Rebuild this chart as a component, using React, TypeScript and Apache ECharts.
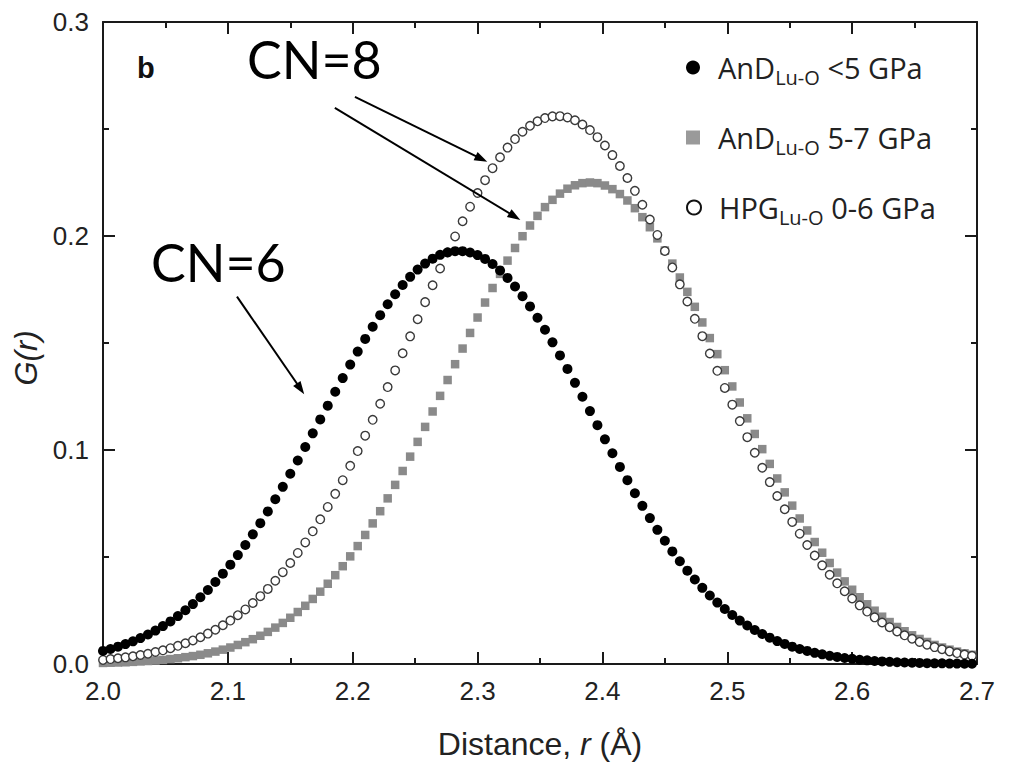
import React, { useEffect, useRef } from "react";
import * as echarts from "echarts";

// Distance r (Å) sampling positions
const R_VALUES = [
  2.000, 2.006, 2.012, 2.018, 2.024, 2.030, 2.036, 2.042, 2.048, 2.054,
  2.060, 2.066, 2.072, 2.078, 2.084, 2.090, 2.096, 2.102, 2.108, 2.114,
  2.120, 2.126, 2.132, 2.138, 2.144, 2.150, 2.156, 2.162, 2.168, 2.174,
  2.180, 2.186, 2.192, 2.198, 2.204, 2.210, 2.216, 2.222, 2.228, 2.234,
  2.240, 2.246, 2.252, 2.258, 2.264, 2.270, 2.276, 2.282, 2.288, 2.294,
  2.300, 2.306, 2.312, 2.318, 2.324, 2.330, 2.336, 2.342, 2.348, 2.354,
  2.360, 2.366, 2.372, 2.378, 2.384, 2.390, 2.396, 2.402, 2.408, 2.414,
  2.420, 2.426, 2.432, 2.438, 2.444, 2.450, 2.456, 2.462, 2.468, 2.474,
  2.480, 2.486, 2.492, 2.498, 2.504, 2.510, 2.516, 2.522, 2.528, 2.534,
  2.540, 2.546, 2.552, 2.558, 2.564, 2.570, 2.576, 2.582, 2.588, 2.594,
  2.600, 2.606, 2.612, 2.618, 2.624, 2.630, 2.636, 2.642, 2.648, 2.654,
  2.660, 2.666, 2.672, 2.678, 2.684, 2.690, 2.696,
];

// AnD Lu-O <5 GPa (filled black circles)
const AND_LOW = [
  0.0061, 0.0070, 0.0081, 0.0093, 0.0106, 0.0121, 0.0138, 0.0156, 0.0177, 0.0199,
  0.0224, 0.0251, 0.0280, 0.0312, 0.0346, 0.0383, 0.0422, 0.0464, 0.0509, 0.0556,
  0.0606, 0.0658, 0.0713, 0.0770, 0.0828, 0.0889, 0.0951, 0.1014, 0.1078, 0.1143,
  0.1207, 0.1272, 0.1336, 0.1399, 0.1460, 0.1519, 0.1576, 0.1630, 0.1681, 0.1728,
  0.1771, 0.1809, 0.1843, 0.1871, 0.1894, 0.1912, 0.1923, 0.1929, 0.1929, 0.1923,
  0.1911, 0.1893, 0.1869, 0.1839, 0.1804, 0.1764, 0.1719, 0.1671, 0.1618, 0.1562,
  0.1503, 0.1442, 0.1379, 0.1314, 0.1249, 0.1182, 0.1116, 0.1050, 0.0985, 0.0921,
  0.0859, 0.0798, 0.0739, 0.0682, 0.0627, 0.0576, 0.0526, 0.0480, 0.0436, 0.0395,
  0.0356, 0.0320, 0.0287, 0.0257, 0.0229, 0.0203, 0.0180, 0.0159, 0.0140, 0.0123,
  0.0107, 0.0094, 0.0081, 0.0070, 0.0061, 0.0052, 0.0045, 0.0038, 0.0033, 0.0028,
  0.0024, 0.0020, 0.0017, 0.0014, 0.0012, 0.0010, 0.0008, 0.0007, 0.0006, 0.0005,
  0.0004, 0.0003, 0.0003, 0.0002, 0.0002, 0.0001, 0.0001,
];

// AnD Lu-O 5-7 GPa (grey squares)
const AND_HIGH = [
  0.0005, 0.0006, 0.0007, 0.0008, 0.0010, 0.0012, 0.0014, 0.0016, 0.0019, 0.0023,
  0.0027, 0.0032, 0.0037, 0.0043, 0.0050, 0.0058, 0.0067, 0.0077, 0.0089, 0.0102,
  0.0116, 0.0132, 0.0150, 0.0170, 0.0192, 0.0216, 0.0243, 0.0272, 0.0304, 0.0338,
  0.0375, 0.0415, 0.0457, 0.0503, 0.0551, 0.0603, 0.0657, 0.0714, 0.0774, 0.0837,
  0.0902, 0.0969, 0.1038, 0.1108, 0.1180, 0.1253, 0.1327, 0.1401, 0.1474, 0.1547,
  0.1619, 0.1689, 0.1757, 0.1823, 0.1885, 0.1944, 0.1999, 0.2049, 0.2094, 0.2135,
  0.2169, 0.2198, 0.2221, 0.2237, 0.2247, 0.2250, 0.2247, 0.2236, 0.2219, 0.2196,
  0.2166, 0.2130, 0.2088, 0.2041, 0.1989, 0.1932, 0.1871, 0.1806, 0.1739, 0.1669,
  0.1596, 0.1523, 0.1448, 0.1373, 0.1297, 0.1222, 0.1148, 0.1075, 0.1004, 0.0935,
  0.0867, 0.0802, 0.0740, 0.0680, 0.0624, 0.0570, 0.0520, 0.0472, 0.0427, 0.0386,
  0.0347, 0.0312, 0.0279, 0.0249, 0.0221, 0.0196, 0.0173, 0.0153, 0.0134, 0.0117,
  0.0103, 0.0089, 0.0077, 0.0067, 0.0058, 0.0050, 0.0043,
];

// HPG Lu-O 0-6 GPa (open circles)
const HPG = [
  0.0019, 0.0023, 0.0027, 0.0031, 0.0036, 0.0042, 0.0048, 0.0056, 0.0064, 0.0074,
  0.0085, 0.0097, 0.0110, 0.0125, 0.0142, 0.0160, 0.0181, 0.0203, 0.0228, 0.0255,
  0.0285, 0.0317, 0.0351, 0.0389, 0.0429, 0.0472, 0.0519, 0.0568, 0.0620, 0.0676,
  0.0734, 0.0795, 0.0859, 0.0926, 0.0995, 0.1067, 0.1141, 0.1216, 0.1294, 0.1372,
  0.1452, 0.1531, 0.1611, 0.1691, 0.1770, 0.1848, 0.1924, 0.1998, 0.2069, 0.2137,
  0.2201, 0.2261, 0.2317, 0.2368, 0.2413, 0.2453, 0.2487, 0.2515, 0.2536, 0.2551,
  0.2559, 0.2560, 0.2554, 0.2541, 0.2521, 0.2495, 0.2462, 0.2423, 0.2378, 0.2327,
  0.2271, 0.2211, 0.2146, 0.2077, 0.2005, 0.1930, 0.1853, 0.1774, 0.1694, 0.1613,
  0.1532, 0.1451, 0.1370, 0.1290, 0.1212, 0.1135, 0.1060, 0.0987, 0.0917, 0.0850,
  0.0785, 0.0723, 0.0664, 0.0609, 0.0556, 0.0507, 0.0461, 0.0417, 0.0377, 0.0340,
  0.0306, 0.0274, 0.0245, 0.0218, 0.0194, 0.0172, 0.0152, 0.0134, 0.0118, 0.0103,
  0.0090, 0.0079, 0.0069, 0.0059, 0.0051, 0.0044, 0.0038,
];

const SERIES_NAMES = ["AnD Lu-O <5 GPa", "AnD Lu-O 5-7 GPa", "HPG Lu-O 0-6 GPa"];
const LEGEND_PARTS = [
  ["AnD", "Lu-O", " <5 GPa"],
  ["AnD", "Lu-O", " 5-7 GPa"],
  ["HPG", "Lu-O", " 0-6 GPa"],
];

// Annotation arrows in data coordinates: [x0, y0, x1, y1]
const ARROWS = [
  [2.2018, 0.265, 2.3031, 0.236],
  [2.1857, 0.2599, 2.3298, 0.2091],
  [2.1073, 0.1717, 2.1582, 0.1286],
];

const X_MIN = 2.0;
const X_MAX = 2.7;
const X_STEP = 0.1;
const Y_MIN = 0;
const Y_MAX = 0.3;
const Y_STEP = 0.1;

const FONT = "'Liberation Sans', Arial, sans-serif";
const AXIS_COLOR = "#1a1a1a";

export default function App() {
  const ref = useRef<HTMLDivElement>(null);

  useEffect(() => {
    if (!ref.current) return;
    const chart = echarts.init(ref.current, undefined, { renderer: "svg" });

    const axisCommon = {
      type: "value",
      axisLine: { show: true, onZero: false, lineStyle: { color: AXIS_COLOR, width: 2 } },
      axisTick: { show: true, inside: true, length: 12, lineStyle: { color: AXIS_COLOR, width: 2 } },
      minorTick: { show: true, splitNumber: 2, length: 6, lineStyle: { color: AXIS_COLOR, width: 2 } },
      splitLine: { show: false },
      minorSplitLine: { show: false },
    };

    const pairs = (ys: number[]) => R_VALUES.map((x, i) => [x, ys[i]]);

    const legendRich = {
      g: { width: 13 },
      m: { fontFamily: "'Open Sans', sans-serif", fontSize: 29, color: "#222", lineHeight: 34, verticalAlign: "middle" },
      s: { fontFamily: "'Open Sans', sans-serif", fontSize: 20, color: "#222", lineHeight: 40, verticalAlign: "bottom" },
    };
    const legendTops = [53, 123, 193];
    const legendIconStyles = [
      { color: "#000", borderWidth: 0, opacity: 1 },
      { color: "#9a9a9a", borderWidth: 0, opacity: 1 },
      { color: "#fff", borderColor: "#111", borderWidth: 2, opacity: 1 },
    ];

    const option: any = {
      animation: false,
      backgroundColor: "#fff",
      grid: { left: 103, right: 36, top: 22, bottom: 100, containLabel: false },
      xAxis: [
        {
          ...axisCommon,
          position: "bottom",
          min: X_MIN,
          max: X_MAX,
          interval: X_STEP,
          axisLabel: {
            show: true,
            margin: 14,
            fontSize: 26,
            color: "#222",
            fontFamily: FONT,
            formatter: (v: number) => v.toFixed(1),
          },
          name: "{n|Distance, }{i|r}{n| (Å)}",
          nameLocation: "middle",
          nameGap: 64,
          nameTextStyle: {
            fontSize: 32,
            color: "#222",
            fontFamily: FONT,
            rich: {
              n: { fontSize: 32, color: "#222", fontFamily: FONT },
              i: { fontSize: 32, color: "#222", fontFamily: FONT, fontStyle: "italic" },
            },
          },
        },
        {
          ...axisCommon,
          position: "top",
          min: X_MIN,
          max: X_MAX,
          interval: X_STEP,
          axisLabel: { show: false },
        },
      ],
      yAxis: [
        {
          ...axisCommon,
          position: "left",
          min: Y_MIN,
          max: Y_MAX,
          interval: Y_STEP,
          axisLabel: {
            show: true,
            margin: 14,
            fontSize: 26,
            color: "#222",
            fontFamily: FONT,
            formatter: (v: number) => v.toFixed(1),
          },
          name: "G(r)",
          nameLocation: "middle",
          nameGap: 44,
          nameRotate: 90,
          nameTextStyle: {
            fontSize: 31,
            color: "#222",
            fontFamily: FONT,
            fontStyle: "italic",
            padding: [0, 30, 0, 0],
          },
        },
        {
          ...axisCommon,
          position: "right",
          min: Y_MIN,
          max: Y_MAX,
          interval: Y_STEP,
          axisLabel: { show: false },
        },
      ],
      legend: SERIES_NAMES.map((name, i) => ({
        show: true,
        orient: "vertical",
        left: 686,
        top: legendTops[i],
        padding: 0,
        itemWidth: 14,
        itemHeight: 14,
        selectedMode: false,
        data: [name],
        itemStyle: legendIconStyles[i],
        formatter: () => `{g|}{m|${LEGEND_PARTS[i][0]}}{s|${LEGEND_PARTS[i][1]}}{m|${LEGEND_PARTS[i][2]}}`,
        textStyle: { rich: legendRich },
      })),
      series: [
        {
          name: SERIES_NAMES[1],
          type: "scatter",
          data: pairs(AND_HIGH),
          symbol: "rect",
          symbolSize: 8.5,
          itemStyle: { color: "#8a8a8a", opacity: 1 },
          emphasis: { disabled: true },
          z: 2,
        },
        {
          name: SERIES_NAMES[2],
          type: "scatter",
          data: pairs(HPG),
          symbol: "circle",
          symbolSize: 8.5,
          itemStyle: { color: "#fff", borderColor: "#3a3a3a", borderWidth: 1.4, opacity: 1 },
          emphasis: { disabled: true },
          z: 3,
        },
        {
          name: SERIES_NAMES[0],
          type: "scatter",
          data: pairs(AND_LOW),
          symbol: "circle",
          symbolSize: 10,
          itemStyle: { color: "#000", opacity: 1 },
          emphasis: { disabled: true },
          z: 4,
          markLine: {
            silent: true,
            symbol: ["none", "triangle"],
            symbolSize: [9, 13],
            label: { show: false },
            lineStyle: { color: "#000", width: 2, type: "solid" },
            emphasis: { disabled: true },
            data: ARROWS.map((a) => [{ coord: [a[0], a[1]] }, { coord: [a[2], a[3]] }]),
          },
        },
      ],
      graphic: [
        {
          type: "text",
          left: 137,
          top: 53,
          style: { text: "b", font: `bold 29px ${FONT}`, fill: "#111" },
        },
        {
          type: "text",
          x: 247,
          y: 59,
          style: { text: "CN=8", font: "52px Lato, 'Open Sans', sans-serif", fill: "#000", verticalAlign: "middle" },
        },
        {
          type: "text",
          x: 151,
          y: 262,
          style: { text: "CN=6", font: "52px Lato, 'Open Sans', sans-serif", fill: "#000", verticalAlign: "middle" },
        },
      ],
    };

    chart.setOption(option);
    return () => chart.dispose();
  }, []);

  return (
    <div
      ref={ref}
      style={{ position: "fixed", left: 0, top: 0, width: 1013, height: 765, background: "#fff" }}
    />
  );
}
